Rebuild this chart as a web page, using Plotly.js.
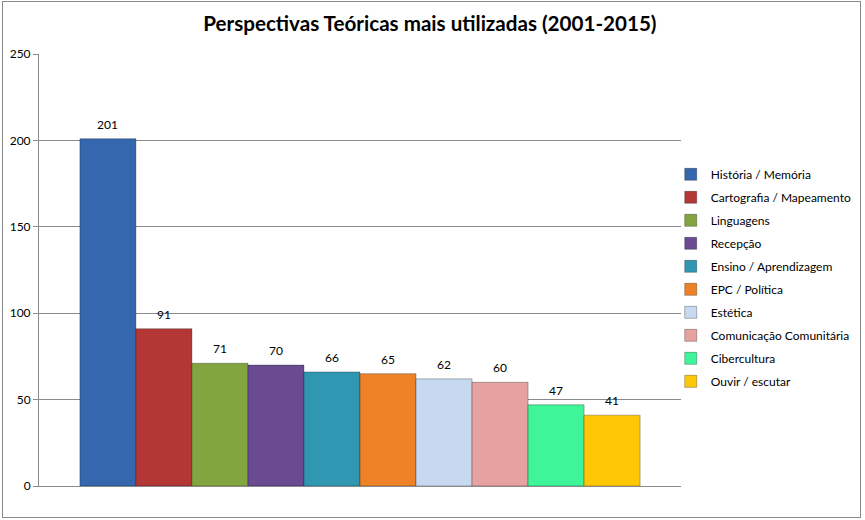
<!DOCTYPE html>
<html>
<head>
<meta charset="utf-8">
<script src="https://cdn.plot.ly/plotly-3.0.1.min.js"></script>
<style>
  body { margin: 0; background: #fff; }
  #chart { position: absolute; left: 0; top: 0; width: 865px; height: 520px; }
  #frame { position: absolute; left: 2px; top: 1px; width: 857px; height: 515px;
           border: 1px solid #8a8a8a; pointer-events: none; }
</style>
</head>
<body>
<div id="chart"></div>
<div id="frame"></div>
<script>
const categories = [
  'História / Memória',
  'Cartografia / Mapeamento',
  'Linguagens',
  'Recepção',
  'Ensino / Aprendizagem',
  'EPC / Política',
  'Estética',
  'Comunicação Comunitária',
  'Cibercultura',
  'Ouvir / escutar'
];
const counts = [201, 91, 71, 70, 66, 65, 62, 60, 47, 41];
const colors = [
  '#3467ad', '#b33835', '#82a540', '#6a4b92', '#2f97b1',
  '#ee8227', '#c6d9f1', '#e5a2a1', '#3ff59a', '#ffc806'
];
const yTicks = [0, 50, 100, 150, 200, 250];

// one trace per series so each gets its own legend entry
const traces = categories.map((name, i) => ({
  type: 'bar',
  name: name,
  x: [i],
  y: [counts[i]],
  width: 1,
  legendgroup: 'g' + i,
  marker: { color: colors[i], line: { color: 'rgba(0,0,0,0.28)', width: 1 } },
  hoverinfo: 'name+y'
}));

// data labels above each bar
const labels = counts.map((v, i) => ({
  x: i,
  y: v,
  xref: 'x',
  yref: 'y',
  text: String(v),
  showarrow: false,
  yanchor: 'bottom',
  yshift: 5,
  font: { family: 'Lato, sans-serif', size: 12, color: '#000' }
}));

const layout = {
  width: 865,
  height: 520,
  title: {
    text: '<b>Perspectivas Teóricas mais utilizadas (2001-2015)</b>',
    font: { family: 'Lato, sans-serif', size: 20.6, color: '#000' },
    x: 0.497,
    xanchor: 'center',
    y: 0.955,
    yanchor: 'middle'
  },
  font: { family: 'Lato, sans-serif', color: '#000' },
  barmode: 'overlay',
  margin: { l: 39, r: 184, t: 54, b: 34, autoexpand: false },
  xaxis: {
    range: [-1.23, 10.23],
    showticklabels: false,
    showgrid: false,
    showline: true,
    linecolor: '#8a8a8a',
    linewidth: 1,
    zeroline: false,
    fixedrange: true
  },
  yaxis: {
    range: [0, 250],
    tickvals: yTicks,
    ticks: 'outside',
    ticklen: 5,
    tickcolor: '#8a8a8a',
    showline: true,
    linecolor: '#8a8a8a',
    linewidth: 1,
    gridcolor: '#8a8a8a',
    gridwidth: 1,
    zeroline: false,
    tickfont: { family: 'Lato, sans-serif', size: 12, color: '#000' }
  },
  annotations: labels,
  showlegend: true,
  legend: {
    x: 0.984,
    xanchor: 'left',
    y: 0.755,
    yanchor: 'top',
    traceorder: 'grouped',
    tracegroupgap: 4,
    itemwidth: 30,
    font: { family: 'Lato, sans-serif', size: 12, color: '#000' },
    bgcolor: 'rgba(0,0,0,0)'
  },
  plot_bgcolor: '#fff',
  paper_bgcolor: '#fff'
};

Plotly.newPlot('chart', traces, layout, { displayModeBar: false, staticPlot: true });
</script>
</body>
</html>
